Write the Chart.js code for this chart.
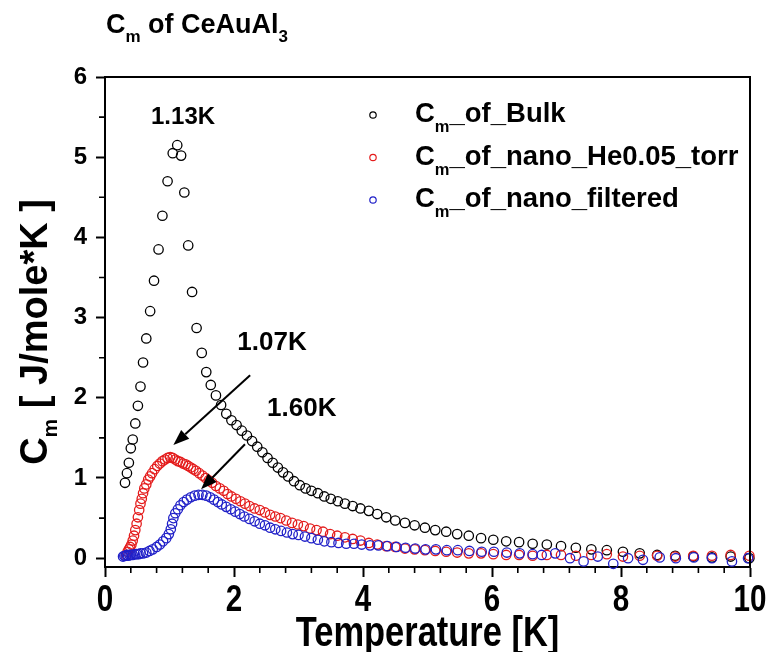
<!DOCTYPE html>
<html>
<head>
<meta charset="utf-8">
<script src="https://cdn.jsdelivr.net/npm/chart.js@4.4.1/dist/chart.umd.min.js"></script>
<style>
  html, body { margin: 0; padding: 0; background: #fff; }
  #wrap { position: relative; width: 768px; height: 652px; }
</style>
</head>
<body>
<div id="wrap"><canvas id="cmChart"></canvas></div>
<script>
// Magnetic specific heat Cm(T) of CeAuAl3: bulk sample and two nano samples

// bulk
const bulkT = [
  0.31, 0.34, 0.37, 0.40, 0.43, 0.47, 0.51, 0.55, 0.59, 0.64,
  0.70, 0.76, 0.83, 0.89, 0.97, 1.05, 1.12, 1.18, 1.23, 1.29,
  1.35, 1.42, 1.50, 1.57, 1.64, 1.72, 1.80, 1.88, 1.96, 2.04,
  2.12, 2.20, 2.28, 2.36, 2.44, 2.52, 2.60, 2.68, 2.76, 2.84,
  2.93, 3.02, 3.11, 3.20, 3.30, 3.40, 3.50, 3.61, 3.72, 3.84,
  3.96, 4.09, 4.22, 4.36, 4.50, 4.65, 4.80, 4.96, 5.12, 5.29,
  5.46, 5.64, 5.83, 6.02, 6.22, 6.42, 6.63, 6.85, 7.07, 7.30,
  7.54, 7.78, 8.03, 8.29, 8.56, 8.84, 9.12, 9.41, 9.70, 9.99
];
const bulkCm = [
  0.94, 1.06, 1.19, 1.37, 1.48, 1.68, 1.90, 2.14, 2.44, 2.74,
  3.08, 3.46, 3.85, 4.27, 4.70, 5.05, 5.15, 5.02, 4.56, 3.90,
  3.32, 2.87, 2.56, 2.32, 2.16, 2.03, 1.91, 1.80, 1.72, 1.66,
  1.59, 1.53, 1.46, 1.39, 1.32, 1.25, 1.19, 1.13, 1.07, 1.02,
  0.96, 0.91, 0.87, 0.84, 0.81, 0.77, 0.74, 0.71, 0.68, 0.65,
  0.62, 0.59, 0.55, 0.51, 0.47, 0.44, 0.41, 0.38, 0.35, 0.33,
  0.30, 0.28, 0.25, 0.23, 0.21, 0.20, 0.18, 0.17, 0.15, 0.13,
  0.11, 0.10, 0.08, 0.06, 0.04, 0.03, 0.02, 0.01, 0.02, 0.00
];

// nano, He 0.05 torr
const heT = [
  0.33, 0.35, 0.37, 0.39, 0.41, 0.43, 0.45, 0.47, 0.49, 0.51,
  0.53, 0.55, 0.57, 0.59, 0.61, 0.64, 0.67, 0.70, 0.73, 0.77,
  0.81, 0.85, 0.89, 0.93, 0.97, 1.01, 1.05, 1.09, 1.13, 1.17,
  1.21, 1.25, 1.29, 1.33, 1.37, 1.41, 1.46, 1.51, 1.56, 1.61,
  1.66, 1.72, 1.78, 1.84, 1.90, 1.96, 2.03, 2.10, 2.17, 2.24,
  2.32, 2.40, 2.48, 2.56, 2.64, 2.72, 2.81, 2.90, 2.99, 3.08,
  3.18, 3.28, 3.38, 3.49, 3.60, 3.72, 3.84, 3.96, 4.09, 4.22,
  4.36, 4.50, 4.65, 4.80, 4.96, 5.12, 5.29, 5.46, 5.64, 5.83,
  6.02, 6.22, 6.42, 6.63, 6.85, 7.07, 7.30, 7.54, 7.78, 8.03,
  8.29, 8.56, 8.84, 9.12, 9.41, 9.70, 9.99
];
const heCm = [
  0.04, 0.08, 0.11, 0.14, 0.17, 0.22, 0.28, 0.35, 0.43, 0.51,
  0.60, 0.68, 0.74, 0.81, 0.87, 0.92, 0.98, 1.02, 1.06, 1.11,
  1.15, 1.18, 1.21, 1.23, 1.25, 1.26, 1.25, 1.23, 1.21, 1.20,
  1.18, 1.17, 1.15, 1.13, 1.11, 1.09, 1.06, 1.03, 1.00, 0.97,
  0.94, 0.90, 0.87, 0.84, 0.80, 0.77, 0.74, 0.71, 0.68, 0.65,
  0.62, 0.60, 0.57, 0.54, 0.52, 0.50, 0.47, 0.44, 0.42, 0.40,
  0.37, 0.35, 0.33, 0.30, 0.28, 0.26, 0.24, 0.22, 0.19, 0.17,
  0.15, 0.14, 0.12, 0.11, 0.10, 0.09, 0.08, 0.07, 0.06, 0.06,
  0.05, 0.04, 0.04, 0.03, 0.04, 0.04, 0.03, 0.04, 0.05, 0.02,
  0.03, 0.03, 0.02, 0.03, 0.03, 0.04, 0.03
];

// nano, filtered
const filtT = [
  0.28, 0.30, 0.32, 0.34, 0.36, 0.38, 0.40, 0.43, 0.46, 0.49,
  0.52, 0.55, 0.59, 0.64, 0.69, 0.74, 0.80, 0.85, 0.90, 0.95,
  0.99, 1.02, 1.04, 1.06, 1.09, 1.13, 1.17, 1.22, 1.27, 1.33,
  1.39, 1.45, 1.51, 1.57, 1.63, 1.69, 1.75, 1.81, 1.88, 1.95,
  2.02, 2.09, 2.16, 2.24, 2.32, 2.40, 2.48, 2.56, 2.64, 2.73,
  2.82, 2.91, 3.00, 3.10, 3.20, 3.30, 3.40, 3.51, 3.62, 3.74,
  3.86, 3.98, 4.11, 4.24, 4.38, 4.52, 4.66, 4.81, 4.97, 5.13,
  5.30, 5.47, 5.65, 5.84, 6.03, 6.23, 6.43, 6.63, 6.77, 6.98,
  7.21, 7.42, 7.64, 7.88, 8.11, 8.34, 8.60, 8.85, 9.13, 9.41,
  9.72, 9.97
];
const filtCm = [
  0.02, 0.03, 0.03, 0.04, 0.03, 0.04, 0.04, 0.04, 0.05, 0.05,
  0.05, 0.06, 0.06, 0.07, 0.09, 0.11, 0.14, 0.17, 0.21, 0.25,
  0.30, 0.36, 0.43, 0.50, 0.56, 0.61, 0.66, 0.70, 0.73, 0.76,
  0.78, 0.79, 0.79, 0.78, 0.76, 0.73, 0.70, 0.67, 0.64, 0.61,
  0.58, 0.55, 0.52, 0.49, 0.46, 0.43, 0.41, 0.38, 0.36, 0.34,
  0.32, 0.30, 0.29, 0.27, 0.25, 0.23, 0.21, 0.20, 0.19, 0.18,
  0.18, 0.17, 0.16, 0.16, 0.15, 0.14, 0.13, 0.12, 0.11, 0.11,
  0.10, 0.10, 0.09, 0.08, 0.08, 0.07, 0.06, 0.05, 0.04, 0.06,
  0.00, -0.04, 0.02, -0.07, 0.00, -0.02, 0.01, 0.00, 0.01, 0.00,
  -0.04, 0.00
];

const xTickValues = [0, 2, 4, 6, 8, 10];
const yTickValues = [0, 1, 2, 3, 4, 5, 6];
const peakLabels = ['1.13K', '1.07K', '1.60K'];

const SANS = "'Liberation Sans', Arial, sans-serif";
const BLACK = '#000000';
const RED = 'rgb(228, 28, 28)';
const BLUE = 'rgb(32, 32, 200)';

function toPoints(xs, ys) {
  return xs.map((x, i) => ({ x: x, y: ys[i] }));
}

// draws a run of text pieces, some of them as subscripts
function drawRich(ctx, parts, x, y, align) {
  let total = 0;
  parts.forEach(p => {
    ctx.font = `bold ${p.size}px ${SANS}`;
    p.w = ctx.measureText(p.text).width;
    total += p.w;
  });
  let cx = align === 'center' ? x - total / 2 : x;
  ctx.textAlign = 'left';
  ctx.textBaseline = 'alphabetic';
  parts.forEach(p => {
    ctx.font = `bold ${p.size}px ${SANS}`;
    ctx.fillText(p.text, cx, y + (p.dy || 0));
    cx += p.w;
  });
}

// bold text squeezed sideways, like a narrow face
function drawNarrow(ctx, text, cx, baseline, size, squeeze) {
  ctx.save();
  ctx.translate(cx, baseline);
  ctx.scale(squeeze, 1);
  ctx.font = `bold ${size}px ${SANS}`;
  ctx.textAlign = 'center';
  ctx.textBaseline = 'alphabetic';
  ctx.fillText(text, 0, 0);
  ctx.restore();
}

// box on top/right, the short minor ticks, and the narrow x labels
const frameAndMinorTicks = {
  id: 'frameAndMinorTicks',
  afterDraw(chart) {
    const { ctx, chartArea: a, scales: { x, y } } = chart;
    ctx.save();
    ctx.strokeStyle = BLACK;
    ctx.lineWidth = 2;
    ctx.beginPath();
    ctx.moveTo(a.left, a.top);
    ctx.lineTo(a.right, a.top);
    ctx.lineTo(a.right, a.bottom);
    ctx.stroke();

    ctx.lineWidth = 1.6;
    ctx.beginPath();
    const xStep = 0.4;
    for (let i = 1; i * xStep < x.max; i++) {
      if (i % 5 === 0) continue;
      const px = x.getPixelForValue(i * xStep);
      ctx.moveTo(px, a.bottom);
      ctx.lineTo(px, a.bottom + 6);
    }
    const yStep = 0.5;
    for (let v = yStep; v < y.max; v += 2 * yStep) {
      const py = y.getPixelForValue(v);
      ctx.moveTo(a.left, py);
      ctx.lineTo(a.left - 6, py);
    }
    ctx.stroke();

    ctx.fillStyle = BLACK;
    x.ticks.forEach(t => {
      drawNarrow(ctx, String(t.value), x.getPixelForValue(t.value), a.bottom + 44, 37, 0.8);
    });
    drawNarrow(ctx, 'Temperature [K]', (a.left + a.right) / 2, a.bottom + 79, 42, 0.82);
    ctx.restore();
  }
};

// chart title, y axis title and legend, all carrying the m subscript
const richText = {
  id: 'richText',
  afterDraw(chart) {
    const { ctx } = chart;
    ctx.save();
    ctx.fillStyle = BLACK;

    drawRich(ctx, [
      { text: 'C', size: 27 },
      { text: 'm', size: 17, dy: 9 },
      { text: ' of CeAuAl', size: 27 },
      { text: '3', size: 17, dy: 9 }
    ], 106, 33, 'left');

    ctx.save();
    ctx.translate(47, 332);
    ctx.rotate(-Math.PI / 2);
    drawRich(ctx, [
      { text: 'C', size: 38 },
      { text: 'm', size: 21, dy: 10 },
      { text: ' [ J/mole*K ]', size: 38 }
    ], 0, 0, 'center');
    ctx.restore();

    const items = [
      { tail: '_of_Bulk', color: BLACK },
      { tail: '_of_nano_He0.05_torr', color: RED },
      { tail: '_of_nano_filtered', color: BLUE }
    ];
    items.forEach((it, i) => {
      const base = 122 + i * 42.5;
      ctx.strokeStyle = it.color;
      ctx.lineWidth = 1.2;
      ctx.beginPath();
      ctx.arc(373, base - 7, 3.2, 0, Math.PI * 2);
      ctx.stroke();
      ctx.fillStyle = BLACK;
      drawRich(ctx, [
        { text: 'C', size: 27.5 },
        { text: 'm', size: 16.5, dy: 10 },
        { text: it.tail, size: 27.5 }
      ], 415, base, 'left');
    });
    ctx.restore();
  }
};

// peak temperatures and the two arrows, placed in data units
const peakNotes = {
  id: 'peakNotes',
  afterDraw(chart) {
    const { ctx, scales: { x, y } } = chart;
    const notes = [
      { text: peakLabels[0], t: 1.21, c: 5.50, size: 24 },
      { text: peakLabels[1], t: 2.59, c: 2.69, size: 26 },
      { text: peakLabels[2], t: 3.05, c: 1.86, size: 26 }
    ];
    const arrows = [
      { from: [2.25, 2.28], to: [1.06, 1.41] },
      { from: [2.17, 1.42], to: [1.49, 0.86] }
    ];
    ctx.save();
    ctx.fillStyle = BLACK;
    ctx.textAlign = 'center';
    ctx.textBaseline = 'middle';
    notes.forEach(n => {
      ctx.font = `bold ${n.size}px ${SANS}`;
      ctx.fillText(n.text, x.getPixelForValue(n.t), y.getPixelForValue(n.c));
    });

    ctx.strokeStyle = BLACK;
    ctx.lineWidth = 2;
    arrows.forEach(ar => {
      const x0 = x.getPixelForValue(ar.from[0]), y0 = y.getPixelForValue(ar.from[1]);
      const x1 = x.getPixelForValue(ar.to[0]), y1 = y.getPixelForValue(ar.to[1]);
      const ang = Math.atan2(y1 - y0, x1 - x0);
      const head = 16, half = 6;
      const bx = x1 - head * Math.cos(ang), by = y1 - head * Math.sin(ang);
      ctx.beginPath();
      ctx.moveTo(x0, y0);
      ctx.lineTo(bx, by);
      ctx.stroke();
      ctx.beginPath();
      ctx.moveTo(x1, y1);
      ctx.lineTo(bx + half * Math.sin(ang), by - half * Math.cos(ang));
      ctx.lineTo(bx - half * Math.sin(ang), by + half * Math.cos(ang));
      ctx.closePath();
      ctx.fill();
    });
    ctx.restore();
  }
};

function series(label, xs, ys, color, order) {
  return {
    label: label,
    data: toPoints(xs, ys),
    borderColor: color,
    backgroundColor: 'rgba(0,0,0,0)',
    pointStyle: 'circle',
    pointRadius: 4.7,
    pointBorderWidth: 1.3,
    showLine: false,
    clip: false,
    order: order
  };
}

new Chart(document.getElementById('cmChart'), {
  type: 'scatter',
  data: {
    datasets: [
      series('Cm_of_Bulk', bulkT, bulkCm, BLACK, 3),
      series('Cm_of_nano_He0.05_torr', heT, heCm, RED, 2),
      series('Cm_of_nano_filtered', filtT, filtCm, BLUE, 1)
    ]
  },
  options: {
    responsive: true,
    maintainAspectRatio: false,
    animation: false,
    devicePixelRatio: 1,
    layout: { padding: { top: 77, right: 18, left: 0, bottom: 0 } },
    plugins: {
      legend: { display: false },
      tooltip: { enabled: false }
    },
    scales: {
      x: {
        type: 'linear',
        min: 0,
        max: 10,
        afterBuildTicks: s => { s.ticks = xTickValues.map(v => ({ value: v })); },
        afterFit: s => { s.height = 85; },
        border: { color: BLACK, width: 2 },
        grid: { drawOnChartArea: false, tickLength: 10, tickWidth: 2, tickColor: BLACK },
        // labels and title are drawn narrow by the plugin above
        ticks: { display: false },
        title: { display: false, text: 'Temperature [K]' }
      },
      y: {
        type: 'linear',
        min: -0.11,
        max: 6,
        afterBuildTicks: s => { s.ticks = yTickValues.map(v => ({ value: v })); },
        afterFit: s => { s.width = 105; },
        border: { color: BLACK, width: 2 },
        grid: { drawOnChartArea: false, tickLength: 9, tickWidth: 2, tickColor: BLACK },
        ticks: {
          color: BLACK,
          padding: 9,
          font: { family: SANS, size: 24, weight: 'bold' }
        }
      }
    }
  },
  plugins: [frameAndMinorTicks, richText, peakNotes]
});
</script>
</body>
</html>
